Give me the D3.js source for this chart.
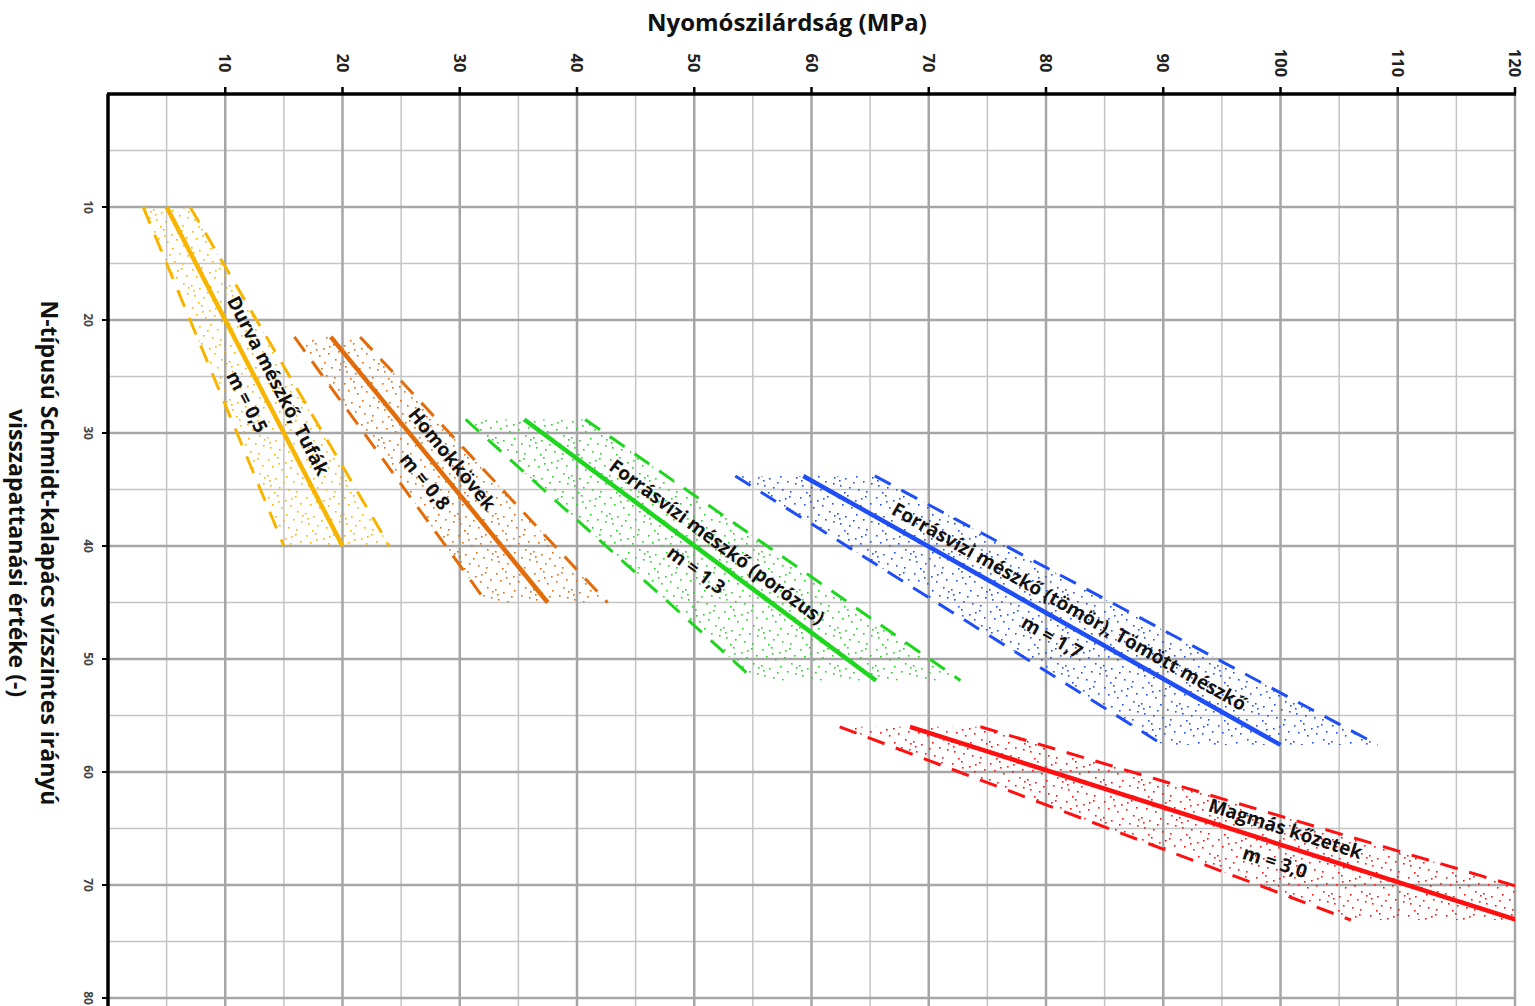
<!DOCTYPE html>
<html>
<head>
<meta charset="utf-8">
<script src="https://cdn.jsdelivr.net/npm/d3@7"></script>
<style>
  html, body { margin: 0; padding: 0; background: #fff; overflow: hidden; }
  svg { display: block; }
</style>
</head>
<body>
<div id="chart"></div>
<script>
// axis ticks
const xTicks = [10, 20, 30, 40, 50, 60, 70, 80, 90, 100, 110, 120];
const yTicks = [10, 20, 30, 40, 50, 60, 70, 80];

// series (strength in MPa, rebound value R)
const seriesNames = [
  "Durva mészkő, Tufák",
  "Homokkövek",
  "Forrásvízi mészkő (porózus)",
  "Forrásvízi mészkő (tömör), Tömött mészkő",
  "Magmás kőzetek"
];
const mLabels = ["m = 0,5", "m = 0,8", "m = 1,3", "m = 1,7", "m = 3,0"];
const seriesColors = ["#f7b500", "#e36c0a", "#1fd61f", "#1f4ef5", "#ff1010"];
const reboundRange = [[10, 40], [21.5, 45], [28.8, 51.9], [33.8, 57.6], [56, 73.1]];
const centerStrength = [[5, 20], [19, 37.5], [35.5, 65.5], [59.3, 100], [68.4, 120.2]];
const lowerStrength = [[3, 15], [15.9, 32.3], [30.5, 55.2], [53.5, 90], [62.4, 106]];
const upperStrength = [[7, 24], [21.5, 42.6], [40.7, 72.7], [65.4, 108.3], [74.4, 129.8]];
const labelPos = [0.55, 0.5, 0.52, 0.54, 0.61];

const W = 1535, H = 1006;
const mLeft = 108, mTop = 94, mRight = 1515;

const x = d3.scaleLinear().domain([0, 120]).range([mLeft, mRight]);
const y = d3.scaleLinear().domain([0, 90]).range([mTop, mTop + 11.3 * 90]);

const svg = d3.select("#chart").append("svg")
  .attr("width", W).attr("height", H);

const defs = svg.append("defs");
defs.append("clipPath").attr("id", "plotClip")
  .append("rect")
  .attr("x", mLeft).attr("y", mTop)
  .attr("width", mRight - mLeft).attr("height", H - mTop);

// stipple texture for the bands
const dots = [[2,3],[11,1],[19,6],[29,2],[34,9],[6,10],[15,13],[24,11],[31,17],[1,19],
  [9,22],[20,20],[27,25],[35,27],[4,29],[13,31],[22,33],[30,35],[8,36],[17,26],
  [25,4],[36,21],[12,7],[3,24]];
seriesColors.forEach((c, i) => {
  const p = defs.append("pattern").attr("id", "stip" + i)
    .attr("patternUnits", "userSpaceOnUse")
    .attr("width", 38).attr("height", 38);
  p.selectAll("rect").data(dots).enter().append("rect")
    .attr("x", d => d[0]).attr("y", d => d[1])
    .attr("width", 1.6).attr("height", 1.6)
    .attr("fill", c);
});

// grid
const grid = svg.append("g");
const minorX = d3.range(5, 120, 10);
const minorY = d3.range(5, 90, 10);
grid.selectAll(".mx").data(minorX).enter().append("line")
  .attr("x1", d => x(d)).attr("x2", d => x(d))
  .attr("y1", mTop).attr("y2", H)
  .attr("stroke", "#c4c4c4").attr("stroke-width", 1.5);
grid.selectAll(".my").data(minorY).enter().append("line")
  .attr("y1", d => y(d)).attr("y2", d => y(d))
  .attr("x1", mLeft).attr("x2", mRight)
  .attr("stroke", "#c4c4c4").attr("stroke-width", 1.5);
grid.selectAll(".gx").data(xTicks).enter().append("line")
  .attr("x1", d => x(d)).attr("x2", d => x(d))
  .attr("y1", mTop).attr("y2", H)
  .attr("stroke", "#a6a6a6").attr("stroke-width", 2.5);
grid.selectAll(".gy").data(d3.range(10, 90, 10)).enter().append("line")
  .attr("y1", d => y(d)).attr("y2", d => y(d))
  .attr("x1", mLeft).attr("x2", mRight)
  .attr("stroke", "#a6a6a6").attr("stroke-width", 2.5);

// bands
const bands = svg.append("g").attr("clip-path", "url(#plotClip)");
const line = d3.line().x(d => x(d[0])).y(d => y(d[1]));

seriesNames.forEach((name, i) => {
  const r = reboundRange[i];
  const lo = [[lowerStrength[i][0], r[0]], [lowerStrength[i][1], r[1]]];
  const hi = [[upperStrength[i][0], r[0]], [upperStrength[i][1], r[1]]];
  const ce = [[centerStrength[i][0], r[0]], [centerStrength[i][1], r[1]]];
  const g = bands.append("g");
  g.append("path")
    .attr("d", line([lo[0], hi[0], hi[1], lo[1]]) + "Z")
    .attr("fill", "url(#stip" + i + ")");
  [lo, hi].forEach(b => {
    g.append("path").attr("d", line(b))
      .attr("fill", "none")
      .attr("stroke", seriesColors[i])
      .attr("stroke-width", 3)
      .attr("stroke-dasharray", "18,12");
  });
  g.append("path").attr("d", line(ce))
    .attr("fill", "none")
    .attr("stroke", seriesColors[i])
    .attr("stroke-width", 4.5);
});

// labels along the centre lines
const labels = svg.append("g")
  .attr("font-family", "'Open Sans', 'Noto Sans', sans-serif")
  .attr("font-weight", 700)
  .attr("font-size", "19px")
  .attr("fill", "#111");
seriesNames.forEach((name, i) => {
  const r = reboundRange[i], c = centerStrength[i], t = labelPos[i];
  const x0 = x(c[0]), y0 = y(r[0]), x1 = x(c[1]), y1 = y(r[1]);
  const px = x0 + (x1 - x0) * t, py = y0 + (y1 - y0) * t;
  const ang = Math.atan2(y1 - y0, x1 - x0) * 180 / Math.PI;
  const g = labels.append("g")
    .attr("transform", `translate(${px},${py}) rotate(${ang})`);
  g.append("text").attr("text-anchor", "middle").attr("y", -10).text(name);
  g.append("text").attr("text-anchor", "middle").attr("y", 25).text(mLabels[i]);
});

// axes
const axes = svg.append("g");
axes.append("line").attr("x1", mLeft - 1).attr("x2", mRight + 1)
  .attr("y1", mTop).attr("y2", mTop)
  .attr("stroke", "#000").attr("stroke-width", 3.5);
axes.append("line").attr("x1", mLeft).attr("x2", mLeft)
  .attr("y1", mTop).attr("y2", H)
  .attr("stroke", "#000").attr("stroke-width", 3.5);
axes.selectAll(".tx").data(xTicks).enter().append("line")
  .attr("x1", d => x(d)).attr("x2", d => x(d))
  .attr("y1", mTop).attr("y2", mTop - 7)
  .attr("stroke", "#000").attr("stroke-width", 2.5);
axes.selectAll(".ty").data(yTicks).enter().append("line")
  .attr("y1", d => y(d)).attr("y2", d => y(d))
  .attr("x1", mLeft).attr("x2", mLeft - 6)
  .attr("stroke", "#000").attr("stroke-width", 2);

axes.selectAll(".lx").data(xTicks).enter().append("text")
  .attr("transform", d => `translate(${x(d)},63) rotate(90)`)
  .attr("text-anchor", "middle").attr("dy", "0.35em")
  .attr("font-family", "'Open Sans', sans-serif")
  .attr("font-weight", 700).attr("font-size", "16.5px")
  .attr("fill", "#222")
  .text(d => d);
axes.selectAll(".ly").data(yTicks).enter().append("text")
  .attr("transform", d => `translate(88,${y(d)}) rotate(90)`)
  .attr("text-anchor", "middle").attr("dy", "0.35em")
  .attr("font-family", "'Open Sans', sans-serif")
  .attr("font-weight", 700).attr("font-size", "12px")
  .attr("fill", "#444")
  .text(d => d);

// titles
svg.append("text")
  .attr("x", 787).attr("y", 31)
  .attr("text-anchor", "middle")
  .attr("font-family", "'Open Sans', sans-serif")
  .attr("font-weight", 700).attr("font-size", "24px")
  .attr("fill", "#111")
  .text("Nyomószilárdság (MPa)");

const yt = svg.append("text")
  .attr("transform", "translate(31,553) rotate(90)")
  .attr("text-anchor", "middle")
  .attr("font-family", "'Open Sans', sans-serif")
  .attr("font-weight", 700).attr("font-size", "23px")
  .attr("fill", "#111");
yt.append("tspan").attr("x", 0).attr("dy", "-0.45em").text("N-típusú Schmidt-kalapács vízszintes irányú");
yt.append("tspan").attr("x", 0).attr("dy", "1.4em").text("visszapattanási értéke (-)");
</script>
</body>
</html>
